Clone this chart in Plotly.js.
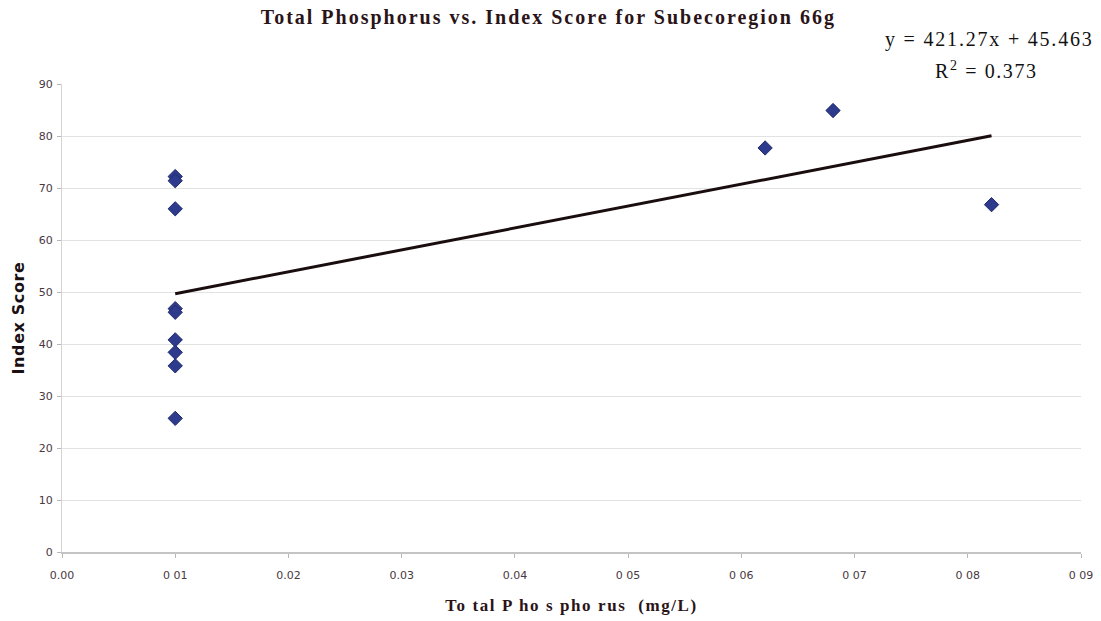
<!DOCTYPE html>
<html>
<head>
<meta charset="utf-8">
<script src="https://cdn.plot.ly/plotly-3.0.1.min.js"></script>
<style>html,body{margin:0;padding:0;background:#fff;}#chart{width:1101px;height:621px;}</style>
</head>
<body>
<div id="chart"></div>
<script>
// Data
var phosphorus = [0.01, 0.01, 0.01, 0.01, 0.01, 0.01, 0.01, 0.01, 0.01, 0.0621, 0.0681, 0.0821];
var indexScore = [72.2, 71.4, 66.0, 46.8, 46.1, 40.8, 38.4, 35.8, 25.7, 77.7, 84.9, 66.8];
var trendSlope = 421.27;
var trendIntercept = 45.463;
var rSquared = 0.373;
var xTicks = [0, 0.01, 0.02, 0.03, 0.04, 0.05, 0.06, 0.07, 0.08, 0.09];
var xTickLabels = ["0.00", "0 01", "0.02", "0.03", "0.04", "0 05", "0 06", "0 07", "0 08", "0 09"];
var yTicks = [0, 10, 20, 30, 40, 50, 60, 70, 80, 90];

var xMin = Math.min.apply(null, phosphorus);
var xMax = Math.max.apply(null, phosphorus);
var trendX = [xMin, xMax];
var trendY = trendX.map(function (x) { return trendSlope * x + trendIntercept; });

var traces = [
  {
    x: trendX, y: trendY, type: 'scatter', mode: 'lines',
    line: {color: '#1a0d0d', width: 3}, hoverinfo: 'skip', showlegend: false
  },
  {
    x: phosphorus, y: indexScore, type: 'scatter', mode: 'markers',
    marker: {symbol: 'diamond', size: 11, color: '#2e3b8c', line: {color: '#1f2a6e', width: 1}},
    showlegend: false
  }
];

var tickFont = {family: 'DejaVu Sans, Verdana, sans-serif', size: 11, color: '#4a3842'};

var layout = {
  width: 1101, height: 621,
  paper_bgcolor: '#ffffff', plot_bgcolor: '#ffffff',
  margin: {l: 62, r: 20, t: 84, b: 69},
  title: {
    text: 'Total Phosphorus vs. Index Score for Subecoregion 66g',
    font: {family: 'Liberation Serif, Times New Roman, serif', size: 20, color: '#2a1418', weight: 'bold'},
    x: 0.498, xanchor: 'center', y: 0.972, yanchor: 'middle'
  },
  xaxis: {
    range: [0, 0.09], tickvals: xTicks, ticktext: xTickLabels,
    showgrid: false, zeroline: false,
    showline: true, linecolor: '#c4c4c4', linewidth: 2,
    ticks: 'outside', ticklen: 4, tickcolor: '#b8b8b8',
    ticklabelstandoff: 8,
    tickfont: tickFont,
    title: {
      text: 'To tal P ho s pho rus  (mg/L)',
      font: {family: 'Liberation Serif, Times New Roman, serif', size: 17, color: '#2a1418', weight: 'bold'},
      standoff: 18
    }
  },
  yaxis: {
    range: [0, 90], tickvals: yTicks,
    showgrid: true, gridcolor: '#e2e2e2', gridwidth: 1,
    zeroline: false,
    showline: true, linecolor: '#d4d4d4', linewidth: 1,
    ticks: 'outside', ticklen: 4, tickcolor: '#b8b8b8',
    ticklabelstandoff: 2,
    tickfont: tickFont,
    title: {
      text: 'Index Score',
      font: {family: 'DejaVu Sans, Verdana, sans-serif', size: 16, color: '#1a1014', weight: 'bold'},
      standoff: 10
    }
  },
  annotations: [
    {
      xref: 'paper', yref: 'paper', x: 0.91, y: 1.095, xanchor: 'center', yanchor: 'middle',
      text: 'y = ' + trendSlope.toFixed(2) + 'x + ' + trendIntercept.toFixed(3),
      showarrow: false,
      font: {family: 'Liberation Serif, Times New Roman, serif', size: 20, color: '#111'}
    },
    {
      xref: 'paper', yref: 'paper', x: 0.907, y: 1.03, xanchor: 'center', yanchor: 'middle',
      text: 'R<sup>2</sup> = ' + rSquared.toFixed(3),
      showarrow: false,
      font: {family: 'Liberation Serif, Times New Roman, serif', size: 20, color: '#111'}
    }
  ]
};

Plotly.newPlot('chart', traces, layout, {displayModeBar: false, staticPlot: true}).then(function () {
  var setSpacing = function (sel, val) {
    document.querySelectorAll(sel).forEach(function (el) { el.style.letterSpacing = val; });
  };
  setSpacing('.gtitle', '2px');
  setSpacing('.xtitle', '1.6px');
  setSpacing('.ytitle', '0.6px');
  var ann = document.querySelectorAll('.annotation-text');
  if (ann[0]) ann[0].style.letterSpacing = '1.8px';
  if (ann[1]) ann[1].style.letterSpacing = '1.6px';
});
</script>
</body>
</html>
